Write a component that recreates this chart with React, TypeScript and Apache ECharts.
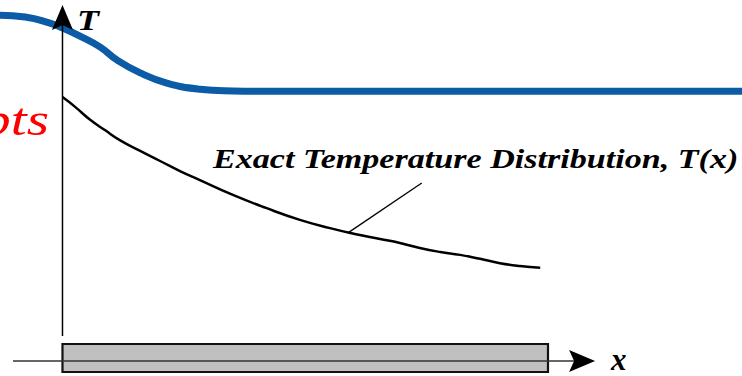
import React, { useEffect, useRef } from "react";
import * as echarts from "echarts";

// Data domain: x = position along the rod (0..1 = rod length), T = temperature (arbitrary units)
const X_MIN = -0.1287;
const X_MAX = 1.3996;
const T_MIN = -4.155;
const T_MAX = 100;

// Exact temperature distribution T(x)
const exactX = [0, 0.026, 0.057, 0.088, 0.118, 0.16, 0.201, 0.242, 0.283, 0.351, 0.419, 0.489, 0.551, 0.602, 0.654, 0.695, 0.736, 0.778, 0.819, 0.86, 0.901, 0.942, 0.984];
const exactT = [73.1, 70.4, 66.8, 63.9, 61.2, 58.2, 55.4, 52.6, 50.1, 46.0, 42.4, 39.1, 36.8, 35.2, 33.8, 32.7, 31.3, 30.2, 29.4, 28.3, 27.1, 26.3, 25.8];

// Blue (upper) curve
const blueX = [-0.129, -0.077, -0.026, 0.001, 0.036, 0.077, 0.112, 0.16, 0.215, 0.283, 0.351, 0.407, 1.4];
const blueT = [95.8, 95.3, 93.6, 92.2, 90.0, 87.0, 83.4, 79.8, 77.0, 75.3, 74.8, 74.7, 74.7];

// Leader line from curve to label
const leaderX = [0.588, 0.74];
const leaderT = [35.5, 49.3];

// Rod (bar) extent
const rodX = [0, 1];
const rodT = [-3.05, 4.71];

// Coordinate axes
const tAxisX = 0;
const tAxisT = [6.9, 98.6];
const xAxisT = 0;
const xAxisX = [-0.102, 1.097];

const label = "Exact Temperature Distribution, T(x)";

export default function App() {
  const ref = useRef<HTMLDivElement>(null);
  useEffect(() => {
    if (!ref.current) return;
    const chart = echarts.init(ref.current, undefined, { renderer: "svg" });
    const serif = "'Liberation Serif', 'Times New Roman', Times, serif";
    chart.setOption({
      animation: false,
      grid: { left: 0, right: 0, top: 0, bottom: 0, containLabel: false },
      xAxis: { type: "value", min: X_MIN, max: X_MAX, show: false },
      yAxis: { type: "value", min: T_MIN, max: T_MAX, show: false },
      series: [
        {
          type: "custom",
          z: 1,
          data: [[rodX[0], rodX[1], rodT[0], rodT[1]]],
          renderItem: (params: any, api: any) => {
            const p1 = api.coord([api.value(0), api.value(3)]);
            const p2 = api.coord([api.value(1), api.value(2)]);
            return {
              type: "rect",
              shape: { x: p1[0], y: p1[1], width: p2[0] - p1[0], height: p2[1] - p1[1] },
              style: { fill: "#c0c0c0", stroke: "#111", lineWidth: 2.2 },
            };
          },
        },
        {
          type: "line",
          z: 2,
          data: blueX.map((x, i) => [x, blueT[i]]),
          smooth: true,
          showSymbol: false,
          lineStyle: { color: "#0b5ba7", width: 7 },
        },
        {
          type: "line",
          z: 2,
          data: exactX.map((x, i) => [x, exactT[i]]),
          smooth: true,
          showSymbol: false,
          lineStyle: { color: "#000", width: 2.5 },
        },
        {
          type: "line",
          z: 2,
          data: leaderX.map((x, i) => [x, leaderT[i]]),
          showSymbol: false,
          lineStyle: { color: "#000", width: 1.3 },
        },
        {
          type: "custom",
          z: 3,
          data: [[0]],
          renderItem: (params: any, api: any) => {
            const vb = api.coord([tAxisX, tAxisT[0]]);
            const vt = api.coord([tAxisX, tAxisT[1]]);
            const hl = api.coord([xAxisX[0], xAxisT]);
            const ht = api.coord([xAxisX[1], xAxisT]);
            return {
              type: "group",
              children: [
                {
                  type: "line",
                  shape: { x1: vb[0], y1: vb[1], x2: vt[0], y2: vt[1] + 20 },
                  style: { stroke: "#000", lineWidth: 1.5 },
                },
                {
                  type: "polygon",
                  shape: {
                    points: [
                      [vt[0], vt[1]],
                      [vt[0] + 10.5, vt[1] + 25],
                      [vt[0], vt[1] + 20],
                      [vt[0] - 10.5, vt[1] + 25],
                    ],
                  },
                  style: { fill: "#000" },
                },
                {
                  type: "line",
                  shape: { x1: hl[0], y1: hl[1], x2: ht[0] - 21, y2: ht[1] },
                  style: { stroke: "#333", lineWidth: 1.6 },
                },
                {
                  type: "polygon",
                  shape: {
                    points: [
                      [ht[0], ht[1]],
                      [ht[0] - 26, ht[1] - 11],
                      [ht[0] - 21, ht[1]],
                      [ht[0] - 26, ht[1] + 11],
                    ],
                  },
                  style: { fill: "#000" },
                },
              ],
            };
          },
        },
      ],
      graphic: [
        {
          type: "text",
          x: 49,
          y: 119,
          scaleX: 1.22,
          style: {
            text: "pts",
            fill: "#ff0000",
            fontFamily: serif,
            fontStyle: "italic",
            fontSize: 47,
            textAlign: "right",
            textVerticalAlign: "middle",
          },
        },
        {
          type: "text",
          x: 77,
          y: 20,
          scaleX: 1.2,
          style: {
            text: "T",
            fill: "#000",
            fontFamily: serif,
            fontStyle: "italic",
            fontWeight: "bold",
            fontSize: 30,
            textAlign: "left",
            textVerticalAlign: "middle",
          },
        },
        {
          type: "text",
          x: 611,
          y: 359,
          style: {
            text: "x",
            fill: "#000",
            fontFamily: serif,
            fontStyle: "italic",
            fontWeight: "bold",
            fontSize: 31,
            lineHeight: 24,
            textAlign: "left",
            textVerticalAlign: "middle",
          },
        },
        {
          type: "text",
          x: 213,
          y: 159,
          scaleX: 1.24,
          style: {
            text: label,
            fill: "#000",
            fontFamily: serif,
            fontStyle: "italic",
            fontWeight: "bold",
            fontSize: 27.5,
            textAlign: "left",
            textVerticalAlign: "middle",
          },
        },
      ],
    });
    return () => chart.dispose();
  }, []);
  return (
    <div
      ref={ref}
      style={{ position: "fixed", left: 0, top: 0, width: 742, height: 376, background: "#fff" }}
    />
  );
}
